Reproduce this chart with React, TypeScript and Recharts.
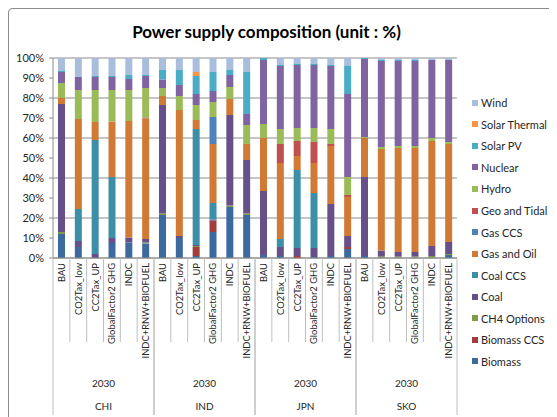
import { Bar, BarChart, CartesianGrid, XAxis, YAxis } from "recharts";

const countries = ["CHI", "IND", "JPN", "SKO"];
const year = "2030";
const scenarios = [
  "BAU",
  "CO2Tax_low",
  "CC2Tax_UP",
  "GlobalFactor2 GHG",
  "INDC",
  "INDC+RNW+BIOFUEL",
];

// shares in %, order: CHI x6, IND x6, JPN x6, SKO x6
const biomass = [12, 5.5, 0, 7.5, 7.7, 7.2, 21.5, 10, 1, 13, 25.5, 21.5, 1.5, 1, 0, 0.5, 1, 4.5, 1, 0, 0, 0, 0, 1.5];
const biomassCcs = [0, 0, 0, 0, 0, 0, 0, 0, 4.5, 5.7, 0, 0, 0, 0, 1, 0, 0, 1, 0, 0, 0, 0, 0, 0];
const ch4Options = [1, 0, 0, 0, 0, 0.5, 0.8, 0, 0.5, 0, 0.7, 0.7, 0, 0, 0, 0, 0, 0, 0, 0.7, 0.7, 0.7, 1, 0.5];
const coal = [64, 3, 2, 2.5, 2.5, 1.8, 54.2, 1, 0.5, 0.5, 45.3, 26.8, 32, 4.5, 4, 4.5, 26, 5.5, 39.5, 3, 2.3, 2.3, 5, 6];
const coalCcs = [0, 16, 57, 30.5, 0, 0, 0, 0, 58, 8.3, 0, 0, 0, 4, 39, 27.5, 0, 0, 0, 0, 0, 0, 0, 0];
const gasOil = [3, 45, 9, 27.7, 58.3, 60.2, 4.5, 63, 4.5, 29.5, 8, 8, 26.5, 38, 7, 15, 29, 19.5, 19.5, 50.8, 52, 52, 52.5, 49];
const gasCcs = [0, 0, 0, 0, 0, 0, 0, 0, 0, 13.5, 0, 0, 0, 0, 0, 0, 0, 0, 0, 0, 0, 0, 0, 0];
const geoTidal = [0, 0, 0, 0, 0, 0.5, 0, 0, 0, 0, 0, 0, 0, 9.5, 7.5, 10.5, 1, 1, 0, 0, 0, 0, 0, 0];
const hydro = [7.5, 14.5, 16, 15.8, 15.5, 14.8, 4, 7, 7.5, 7.5, 6, 9.5, 7, 7.5, 6.5, 7, 7.5, 9, 0.5, 1, 1, 1, 1.5, 1];
const nuclear = [5.5, 6.5, 6.5, 6.5, 5.5, 6, 4.2, 5.5, 5.5, 5.5, 6, 5.5, 32, 31.5, 31.5, 31.5, 31.5, 41.5, 39, 43, 42.5, 42.5, 39, 41];
const solarPv = [0.5, 0, 0.5, 0.5, 2, 0.5, 4.8, 7.5, 9, 9.5, 2.5, 21, 1, 0.5, 0.5, 0.5, 0.5, 14, 0.5, 0.5, 0.5, 0.5, 0, 0];
const solarThermal = [0, 0, 0, 0, 0, 0, 0, 0, 2, 0, 0, 0, 0, 0, 0, 0, 0, 0, 0, 0, 0, 0, 0, 0];
const wind = [6.5, 9.5, 9, 9, 8.5, 8.5, 6, 6, 7, 7, 6, 7, 0, 3.5, 3, 3, 3.5, 4, 0, 1, 1, 1, 1, 1];

const yTicks = [0, 10, 20, 30, 40, 50, 60, 70, 80, 90, 100];

// bottom to top of the stack
const series = [
  { key: "biomass", name: "Biomass", color: "#3d6a9e", values: biomass },
  { key: "biomassCcs", name: "Biomass CCS", color: "#a33d3a", values: biomassCcs },
  { key: "ch4", name: "CH4 Options", color: "#7f9a48", values: ch4Options },
  { key: "coal", name: "Coal", color: "#67508a", values: coal },
  { key: "coalCcs", name: "Coal CCS", color: "#3c8fa6", values: coalCcs },
  { key: "gasOil", name: "Gas and Oil", color: "#d07a35", values: gasOil },
  { key: "gasCcs", name: "Gas CCS", color: "#4f81bd", values: gasCcs },
  { key: "geoTidal", name: "Geo and Tidal", color: "#c0504d", values: geoTidal },
  { key: "hydro", name: "Hydro", color: "#9bbb59", values: hydro },
  { key: "nuclear", name: "Nuclear", color: "#8064a2", values: nuclear },
  { key: "solarPv", name: "Solar PV", color: "#4bacc6", values: solarPv },
  { key: "solarThermal", name: "Solar Thermal", color: "#f79646", values: solarThermal },
  { key: "wind", name: "Wind", color: "#a9bddd", values: wind },
];

const data = countries.flatMap((country, c) =>
  scenarios.map((scenario, s) => {
    const i = c * scenarios.length + s;
    const row: Record<string, string | number> = { id: `${country}-${scenario}`, scenario, country };
    series.forEach((sr) => (row[sr.key] = sr.values[i]));
    return row;
  })
);

const FONT = "Lato, 'Open Sans', sans-serif";
const LINE = "#bfbfbf";

function CategoryTick(props: any) {
  const { x, y, payload } = props;
  const i = payload.index as number;
  const half = payload.offset || 8.4;
  const n = scenarios.length;
  const first = i % n === 0;
  const last = i % n === n - 1;
  return (
    <g>
      <text
        x={x}
        y={y + 5}
        transform={`rotate(-90, ${x}, ${y + 5})`}
        textAnchor="end"
        dominantBaseline="central"
        fontSize={9.4}
        fontFamily={FONT}
        fill="#262626"
      >
        {scenarios[i % n]}
      </text>
      {first && <line x1={x - half} x2={x - half} y1={y} y2={y + 157} stroke={LINE} />}
      <line x1={x + half} x2={x + half} y1={y} y2={last ? y + 157 : y + 84} stroke={LINE} />
      {first && (
        <>
          <text x={x + 5 * half} y={y + 125} textAnchor="middle" dominantBaseline="central" fontSize={10} fontFamily={FONT} fill="#262626">
            {year}
          </text>
          <text x={x + 5 * half} y={y + 148} textAnchor="middle" dominantBaseline="central" fontSize={10} fontFamily={FONT} fill="#262626">
            {countries[Math.floor(i / n)]}
          </text>
        </>
      )}
    </g>
  );
}

export default function App() {
  return (
    <div
      style={{
        position: "relative",
        width: 560,
        height: 420,
        border: "1px solid #8c8c8c",
        borderRadius: 4,
        background: "#fff",
        fontFamily: FONT,
        overflow: "hidden",
      }}
    >
      <div
        style={{
          position: "absolute",
          left: 257.5,
          top: 13,
          transform: "translateX(-50%)",
          whiteSpace: "nowrap",
          fontSize: 17,
          fontWeight: 700,
          lineHeight: "20px",
          color: "#000",
        }}
      >
        Power supply composition (unit : %)
      </div>

      <BarChart
        width={460}
        height={409}
        data={data}
        margin={{ top: 49, right: 12, left: 0, bottom: 0 }}
        barSize={7}
      >
        <CartesianGrid vertical={false} stroke="#8c8c8c" />
        <XAxis
          dataKey="id"
          interval={0}
          height={160}
          tickLine={false}
          tickSize={0}
          tickMargin={0}
          axisLine={{ stroke: "#8c8c8c" }}
          tick={<CategoryTick />}
        />
        <YAxis
          width={44}
          domain={[0, 100]}
          ticks={yTicks}
          tickFormatter={(v) => `${v}%`}
          tickSize={4}
          tickMargin={5}
          tickLine={{ stroke: "#8c8c8c" }}
          axisLine={{ stroke: "#8c8c8c" }}
          tick={{ fontSize: 11, fill: "#262626", fontFamily: FONT }}
        />
        {series.map((sr) => (
          <Bar key={sr.key} dataKey={sr.key} name={sr.name} stackId="mix" fill={sr.color} isAnimationActive={false} />
        ))}
      </BarChart>

      <div style={{ position: "absolute", left: 463, top: 83 }}>
        {[...series].reverse().map((sr) => (
          <div key={sr.key} style={{ display: "flex", alignItems: "center", height: 21.55, whiteSpace: "nowrap" }}>
            <span style={{ width: 6, height: 6, background: sr.color, marginRight: 3, flex: "none" }} />
            <span style={{ fontSize: 11, color: "#262626" }}>{sr.name}</span>
          </div>
        ))}
      </div>
    </div>
  );
}
